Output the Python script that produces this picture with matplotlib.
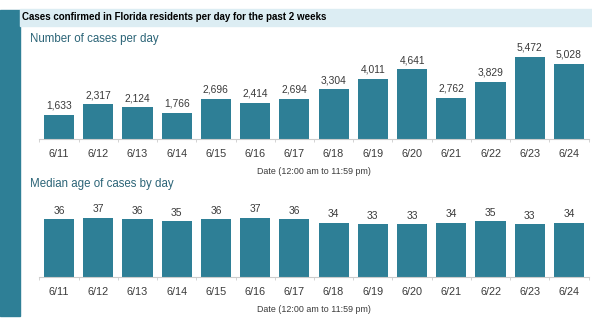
import numpy as np
import matplotlib.pyplot as plt
from matplotlib.patches import Rectangle

days = ['6/11', '6/12', '6/13', '6/14', '6/15', '6/16', '6/17',
        '6/18', '6/19', '6/20', '6/21', '6/22', '6/23', '6/24']
cases = [1633, 2317, 2124, 1766, 2696, 2414, 2694,
         3304, 4011, 4641, 2762, 3829, 5472, 5028]
median_age = [36, 37, 36, 35, 36, 37, 36, 34, 33, 33, 34, 35, 33, 34]

bar_color = '#2e7f96'
head_color = '#2b6477'
text_color = '#3a3a3a'

plt.rcParams['font.family'] = ['Liberation Sans', 'DejaVu Sans']

W, H = 592, 333
fig = plt.figure(figsize=(W / 100, H / 100), dpi=100)

# left teal strip and title band
fig.patches.append(Rectangle((0, 1 - 316 / H), 20 / W, 306 / H,
                             transform=fig.transFigure, color=bar_color, zorder=0))
fig.patches.append(Rectangle((20 / W, 1 - 26 / H), 1 - 20 / W, 17 / H,
                             transform=fig.transFigure, color='#dcedf3', zorder=0))
fig.text(22 / W, 1 - 17.5 / H, 'Cases confirmed in Florida residents per day for the past 2 weeks',
         fontsize=7, fontweight='bold', color='black', va='center')
fig.text(30 / W, 1 - 39 / H, 'Number of cases per day', fontsize=8.3,
         color=head_color, va='center')
fig.text(30 / W, 1 - 184 / H, 'Median age of cases by day', fontsize=8.3,
         color=head_color, va='center')


def draw(ax, vals, ymax, fmt):
    x = np.arange(len(days))
    ax.bar(x, vals, width=0.77, color=bar_color)
    for xi, v in zip(x, vals):
        ax.text(xi, v + ymax * 0.045, fmt(v), ha='center', va='bottom',
                fontsize=7.4, color=text_color)
    ax.set_xlim(-0.5, len(days) - 0.5)
    ax.set_ylim(0, ymax)
    ax.set_xticks(x)
    ax.set_xticklabels(days, fontsize=7.8, color=text_color)
    ax.set_xticks(np.arange(len(days) + 1) - 0.5, minor=True)
    ax.tick_params(axis='x', which='major', length=0, pad=7)
    ax.tick_params(axis='x', which='minor', length=2.5, color='#cccccc')
    ax.set_yticks([])
    for s in ['top', 'right', 'left']:
        ax.spines[s].set_visible(False)
    ax.spines['bottom'].set_color('#cccccc')
    ax.set_xlabel('Date (12:00 am to 11:59 pm)', fontsize=6.4, color=text_color,
                  labelpad=6)
    ax.patch.set_alpha(0)


left = 39.4 / W
width = 549.2 / W
ax1 = fig.add_axes([left, (H - 139) / H, width, 91.5 / H])
draw(ax1, cases, 6100, lambda v: f'{v:,}')
ax2 = fig.add_axes([left, (H - 277) / H, width, 76.8 / H])
draw(ax2, median_age, 48, lambda v: str(v))

fig.savefig('out.png', dpi=100)
